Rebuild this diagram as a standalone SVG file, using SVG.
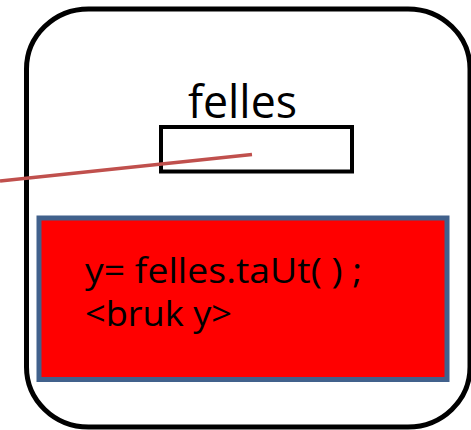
<svg xmlns="http://www.w3.org/2000/svg" width="471" height="430" viewBox="0 0 471 430">
<style>
.t{font-family:"Open Sans","Noto Sans","Liberation Sans",sans-serif;fill:#000}
</style>
<rect width="471" height="430" fill="#fff"/>
<g id="outer">
<rect x="26.5" y="9" width="443.5" height="418" rx="62" ry="60" fill="#fff" stroke="#000" stroke-width="5"/>
</g>
<g id="felles">
<text class="t" x="188" y="117.5" font-size="46" textLength="109" lengthAdjust="spacingAndGlyphs">felles</text>
<rect x="161" y="127" width="191" height="44.5" fill="none" stroke="#000" stroke-width="4"/>
</g>
<g id="block">
<rect x="39" y="218" width="408" height="161.5" fill="#ff0000" stroke="#41618c" stroke-width="5"/>
<text class="t" x="85" y="283" font-size="34" textLength="277" lengthAdjust="spacingAndGlyphs">y= felles.taUt( ) ;</text>
<text class="t" x="85" y="326" font-size="34" textLength="147" lengthAdjust="spacingAndGlyphs">&lt;bruk y&gt;</text>
</g>
<g id="connectors">
<line x1="0" y1="181" x2="252" y2="154.5" stroke="#c0504d" stroke-width="3.5"/>
</g>
</svg>
